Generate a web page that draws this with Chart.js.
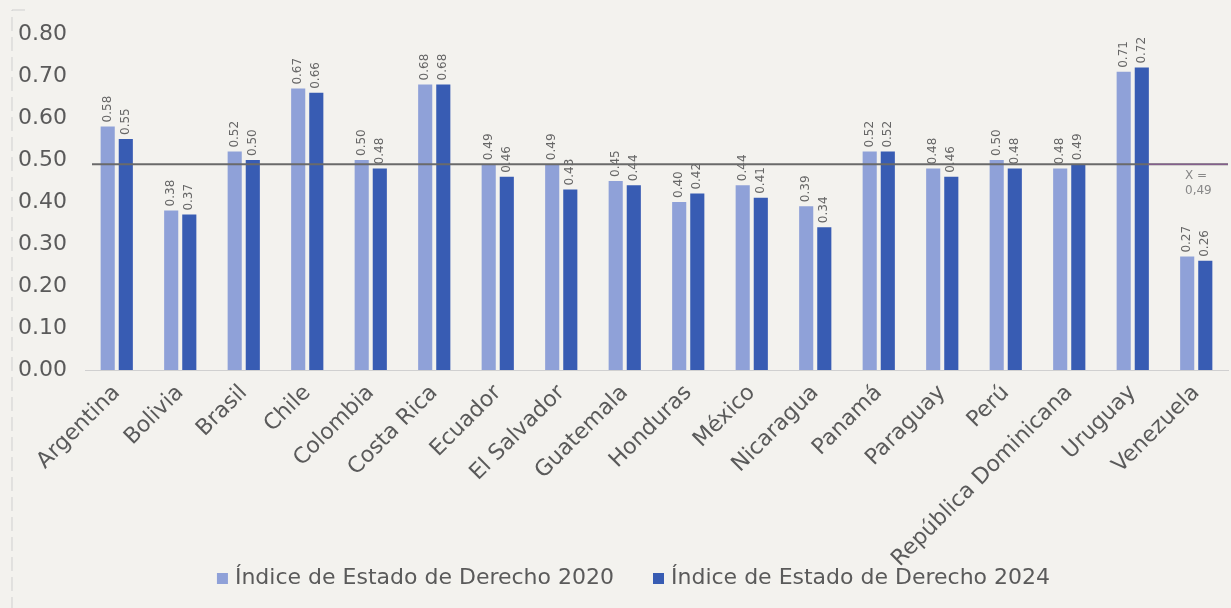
<!DOCTYPE html>
<html>
<head>
<meta charset="utf-8">
<script src="https://cdn.jsdelivr.net/npm/chart.js@4/dist/chart.umd.min.js"></script>
<style>
  html, body { margin: 0; padding: 0; background: #f3f2ee; }
  #wrap { width: 1231px; height: 608px; position: relative; }
</style>
</head>
<body>
<div id="wrap"><canvas id="ruleChart"></canvas></div>
<script>
const countries = ['Argentina', 'Bolivia', 'Brasil', 'Chile', 'Colombia', 'Costa Rica', 'Ecuador',
    'El Salvador', 'Guatemala', 'Honduras', 'México', 'Nicaragua', 'Panamá', 'Paraguay', 'Perú',
    'República Dominicana', 'Uruguay', 'Venezuela'];
const index2020 = [0.58, 0.38, 0.52, 0.67, 0.50, 0.68, 0.49, 0.49, 0.45, 0.40, 0.44, 0.39, 0.52, 0.48, 0.50, 0.48, 0.71, 0.27];
const index2024 = [0.55, 0.37, 0.50, 0.66, 0.48, 0.68, 0.46, 0.43, 0.44, 0.42, 0.41, 0.34, 0.52, 0.46, 0.48, 0.49, 0.72, 0.26];
const meanValue = 0.49;
const meanLabel = ['X =', '0,49'];
const yTicks = [0, 0.1, 0.2, 0.3, 0.4, 0.5, 0.6, 0.7, 0.8];

const FONT = "'DejaVu Sans', sans-serif";
const GREY = '#5a5a5a';

// rotated value labels above each bar
const barLabels = {
    id: 'barLabels',
    afterDatasetsDraw(chart) {
        const c = chart.ctx;
        c.save();
        c.font = '12px ' + FONT;
        c.fillStyle = '#666';
        c.textAlign = 'left';
        c.textBaseline = 'middle';
        chart.data.datasets.forEach((ds, i) => {
            chart.getDatasetMeta(i).data.forEach((bar, j) => {
                c.save();
                c.translate(bar.x, bar.y - 4);
                c.rotate(-Math.PI / 2);
                c.fillText(ds.data[j].toFixed(2), 0, 0);
                c.restore();
            });
        });
        c.restore();
    }
};

// average line + the faint dashed frame on the left
const meanLine = {
    id: 'meanLine',
    afterDatasetsDraw(chart) {
        const c = chart.ctx;
        const area = chart.chartArea;
        const y = chart.scales.y.getPixelForValue(meanValue);
        c.save();
        c.strokeStyle = '#6a6a6a';
        c.lineWidth = 2;
        c.beginPath();
        c.moveTo(area.left + 7, y);
        c.lineTo(area.right, y);
        c.stroke();
        c.strokeStyle = 'rgba(170, 80, 190, 0.6)';
        c.lineWidth = 1;
        c.beginPath();
        c.moveTo(area.right - 80, y);
        c.lineTo(area.right, y);
        c.stroke();

        c.font = '12px ' + FONT;
        c.fillStyle = '#888';
        c.textAlign = 'left';
        c.textBaseline = 'middle';
        c.fillText(meanLabel[0], area.right - 43, y + 12);
        c.fillText(meanLabel[1], area.right - 43, y + 27);

        c.strokeStyle = '#cfcfcf';
        c.setLineDash([14, 6]);
        c.beginPath();
        c.moveTo(25, 10);
        c.lineTo(12, 10);
        c.lineTo(12, chart.height);
        c.stroke();
        c.restore();
    }
};

// legend drawn by hand so the gap between the two items can be wider
const bottomLegend = {
    id: 'bottomLegend',
    afterDraw(chart) {
        const c = chart.ctx;
        c.save();
        c.font = '22px ' + FONT;
        c.textAlign = 'left';
        c.textBaseline = 'middle';
        const box = 11, gapText = 7, gapItem = 39;
        const items = chart.data.datasets.map(ds => ({
            text: ds.label,
            color: ds.backgroundColor,
            w: c.measureText(ds.label).width
        }));
        const total = items.reduce((s, it) => s + box + gapText + it.w, 0) + gapItem * (items.length - 1);
        let x = chart.width / 2 + 18 - total / 2;
        const y = chart.height - 30;
        items.forEach(it => {
            c.fillStyle = it.color;
            c.fillRect(x, y - 5, box, box);
            c.fillStyle = GREY;
            c.fillText(it.text, x + box + gapText, y);
            x += box + gapText + it.w + gapItem;
        });
        c.restore();
    }
};

new Chart(document.getElementById('ruleChart').getContext('2d'), {
    type: 'bar',
    data: {
        labels: countries,
        datasets: [
            {
                label: 'Índice de Estado de Derecho 2020',
                data: index2020,
                backgroundColor: '#8fa1d8',
                categoryPercentage: 0.57,
                barPercentage: 0.78
            },
            {
                label: 'Índice de Estado de Derecho 2024',
                data: index2024,
                backgroundColor: '#385cb3',
                categoryPercentage: 0.57,
                barPercentage: 0.78
            }
        ]
    },
    options: {
        responsive: true,
        maintainAspectRatio: false,
        animation: false,
        layout: { padding: { top: 34, right: 3, left: 0, bottom: 54 } },
        plugins: {
            legend: { display: false },
            tooltip: { enabled: false }
        },
        scales: {
            x: {
                grid: { display: false },
                border: { color: '#d0d0d0' },
                ticks: {
                    autoSkip: false,
                    minRotation: 45,
                    maxRotation: 45,
                    padding: 2,
                    color: GREY,
                    font: { family: FONT, size: 22 }
                },
                afterFit: s => {
                    s.height = 184;
                    // long rotated labels run into the legend area, don't clip them
                    s._computeLabelArea = () => null;
                }
            },
            y: {
                min: 0,
                max: 0.8,
                grid: { display: false },
                border: { display: false },
                afterBuildTicks: s => { s.ticks = yTicks.map(v => ({ value: v })); },
                ticks: {
                    padding: 10,
                    color: GREY,
                    font: { family: FONT, size: 22 },
                    callback: v => v.toFixed(2)
                },
                afterFit: s => { s.width = 85; }
            }
        }
    },
    plugins: [barLabels, meanLine, bottomLegend]
});
</script>
</body>
</html>
